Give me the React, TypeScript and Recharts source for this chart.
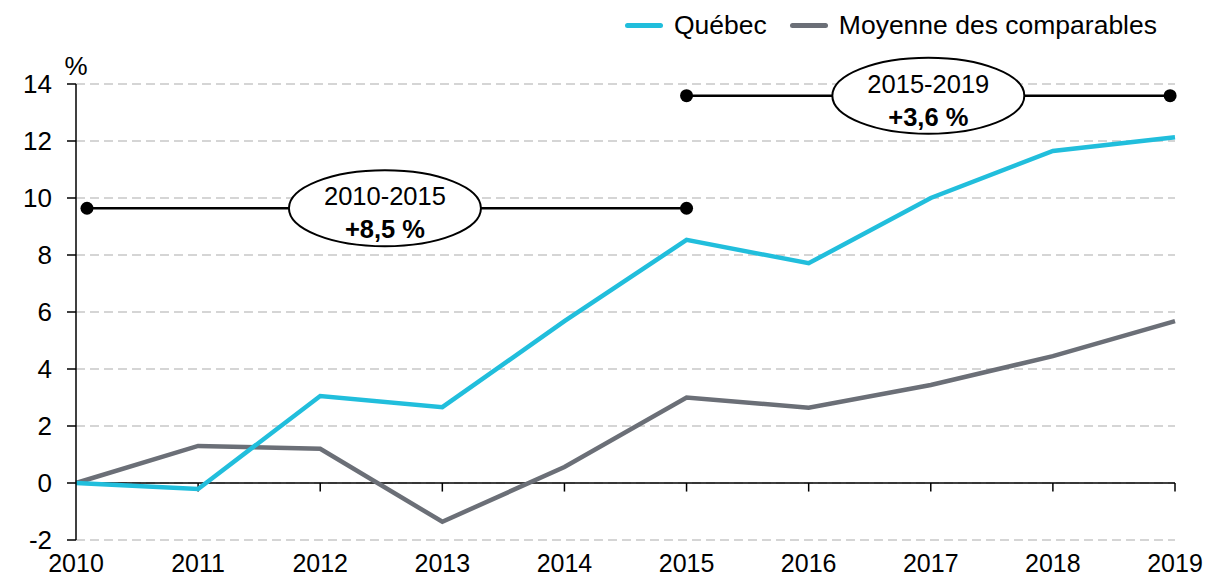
import React from 'react';
import { LineChart, Line, XAxis, YAxis, CartesianGrid, ReferenceLine, ReferenceDot, Legend } from 'recharts';

const years = [2010, 2011, 2012, 2013, 2014, 2015, 2016, 2017, 2018, 2019];
const quebec = [0, -0.21, 3.05, 2.66, 5.68, 8.53, 7.71, 10.0, 11.65, 12.13];
const moyenne = [0, 1.3, 1.2, -1.36, 0.56, 3.0, 2.64, 3.44, 4.45, 5.68];
const yTicks = [-2, 0, 2, 4, 6, 8, 10, 12, 14];
const seriesNames = ['Québec', 'Moyenne des comparables'];
const seriesColors = ['#21BEDC', '#6B6F77'];

const periodLabels = ['2010-2015', '2015-2019'];
const periodChanges = ['+8,5 %', '+3,6 %'];
const periodStarts = [2010.09, 2015.0];
const periodEnds = [2015.0, 2018.96];
const periodLevels = [9.64, 13.59];
const periodCenters = [2012.53, 2016.98];

const data = years.map((y, i) => ({ year: y, quebec: quebec[i], moyenne: moyenne[i] }));

const FONT = '"Liberation Sans", Arial, sans-serif';
const FS = 26;
const FS_X = 25;
const FS_BOX = 25.5;

const LegendContent = () => (
  <div
    style={{
      height: 50,
      display: 'flex',
      justifyContent: 'flex-end',
      alignItems: 'center',
      paddingRight: 49,
      fontFamily: FONT,
      fontSize: 26.5,
      color: '#000',
      boxSizing: 'border-box',
    }}
  >
    {seriesNames.map((n, i) => (
      <div key={n} style={{ display: 'flex', alignItems: 'center', marginLeft: i === 0 ? 0 : 23 }}>
        <div style={{ width: 38, height: 5, borderRadius: 3, background: seriesColors[i], marginRight: 11 }} />
        <span>{n}</span>
      </div>
    ))}
  </div>
);

const makeEllipse = (l1: string, l2: string) => (p: any) => (
  <g>
    <ellipse cx={p.cx} cy={p.cy} rx={96} ry={38} fill="#fff" stroke="#000" strokeWidth={2} />
    <text x={p.cx} y={p.cy - 12} textAnchor="middle" dominantBaseline="central" fontFamily={FONT} fontSize={FS_BOX} fill="#000">
      {l1}
    </text>
    <text x={p.cx} y={p.cy + 21} textAnchor="middle" dominantBaseline="central" fontFamily={FONT} fontSize={FS_BOX} fontWeight="bold" fill="#000">
      {l2}
    </text>
  </g>
);

const PercentLabel = (props: any) => {
  const vb = props.viewBox || {};
  return (
    <text x={vb.x + vb.width} y={vb.y - 18} textAnchor="middle" dominantBaseline="central" fontFamily={FONT} fontSize={FS} fill="#000">
      %
    </text>
  );
};

export default function App() {
  return (
    <div style={{ width: 1206, height: 577, background: '#fff' }}>
      <style>{'body{margin:0;background:#fff}'}</style>
      <LineChart width={1206} height={577} data={data} margin={{ top: 34, right: 31, left: 0, bottom: 0 }}>
        <CartesianGrid vertical={false} stroke="#C8C8C8" strokeDasharray="9 5" strokeWidth={1.5} />
        <XAxis
          dataKey="year"
          type="number"
          domain={[2010, 2019]}
          ticks={years}
          axisLine={false}
          tickLine={false}
          tickSize={0}
          tickMargin={14}
          height={37}
          tick={{ fontFamily: FONT, fontSize: FS_X, fill: '#000' }}
          interval={0}
        />
        <YAxis
          type="number"
          domain={[-2, 14]}
          ticks={yTicks}
          width={76}
          axisLine={{ stroke: '#000', strokeWidth: 1.5 }}
          tickLine={{ stroke: '#000', strokeWidth: 1.5 }}
          tickSize={9}
          tickMargin={15}
          tick={{ fontFamily: FONT, fontSize: FS, fill: '#000' }}
          interval={0}
          label={<PercentLabel />}
        />
        <Legend
          verticalAlign="top"
          align="right"
          content={<LegendContent />}
          wrapperStyle={{ top: 0, left: 0, width: 1206, height: 50 }}
        />
        <ReferenceLine y={0} stroke="#000" strokeWidth={1.5} />
        {years.slice(1).map((y) => (
          <ReferenceLine
            key={'t' + y}
            segment={[{ x: y, y: 0 }, { x: y, y: -0.3 }]}
            stroke="#000"
            strokeWidth={1.5}
          />
        ))}
        <Line dataKey="moyenne" name={seriesNames[1]} stroke={seriesColors[1]} strokeWidth={4.5} dot={false} isAnimationActive={false} />
        <Line dataKey="quebec" name={seriesNames[0]} stroke={seriesColors[0]} strokeWidth={4.5} dot={false} isAnimationActive={false} />
        {periodLabels.map((lab, i) => (
          <ReferenceLine
            key={'s' + i}
            segment={[{ x: periodStarts[i], y: periodLevels[i] }, { x: periodEnds[i], y: periodLevels[i] }]}
            stroke="#000"
            strokeWidth={2.5}
          />
        ))}
        {periodLabels.map((lab, i) => (
          <ReferenceDot key={'a' + i} x={periodStarts[i]} y={periodLevels[i]} r={6.5} fill="#000" stroke="none" />
        ))}
        {periodLabels.map((lab, i) => (
          <ReferenceDot key={'b' + i} x={periodEnds[i]} y={periodLevels[i]} r={6.5} fill="#000" stroke="none" />
        ))}
        {periodLabels.map((lab, i) => (
          <ReferenceDot
            key={'e' + i}
            x={periodCenters[i]}
            y={periodLevels[i]}
            r={1}
            shape={makeEllipse(lab, periodChanges[i])}
          />
        ))}
      </LineChart>
    </div>
  );
}
